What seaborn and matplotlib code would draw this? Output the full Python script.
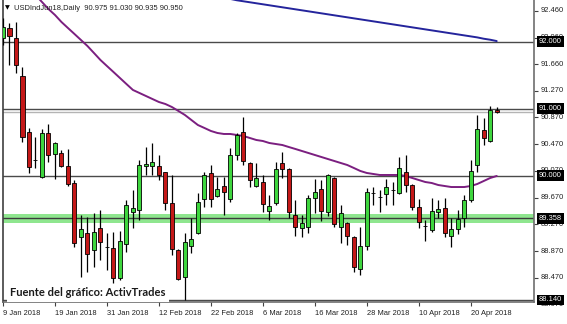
import matplotlib
matplotlib.use("Agg")
import matplotlib.pyplot as plt
import matplotlib.transforms as mtransforms
import numpy as np
import pandas as pd
import seaborn as sns

# ---------------- data ----------------
title_text = "USDIndJun18,Daily  90.975 91.030 90.935 90.950"
source_text = "Fuente del gráfico: ActivTrades"

opens = [92.056, 92.205, 92.056, 91.488, 90.651, 90.232, 89.978, 90.636, 90.322, 90.337,
         90.142, 89.888, 89.081, 89.141, 88.886, 89.215, 88.931, 88.916, 88.468, 88.976,
         89.455, 89.484, 90.142, 90.142, 90.142, 90.053, 89.589, 88.886, 88.483, 88.946,
         89.141, 89.649, 90.038, 89.694, 89.843, 89.649, 90.307, 90.651, 90.187, 89.843,
         89.903, 89.469, 89.589, 90.187, 90.098, 89.410, 89.215, 89.230, 89.664, 89.799,
         89.455, 89.963, 89.230, 89.290, 89.081, 88.603, 88.946, 89.739, 89.679, 89.724,
         89.784, 89.739, 90.053, 89.858, 89.529, 89.245, 89.185, 89.455, 89.514, 89.096,
         89.200, 89.365, 89.634, 90.157, 90.681, 90.516, 90.975]
highs = [92.355, 92.280, 92.295, 91.622, 90.711, 90.576, 90.696, 90.770, 90.501, 90.382,
         90.397, 89.933, 89.410, 89.380, 89.440, 89.484, 89.141, 89.156, 89.171, 89.634,
         89.784, 90.232, 90.426, 90.486, 90.307, 90.060, 90.008, 88.900, 89.141, 89.365,
         89.739, 90.053, 90.157, 89.978, 89.978, 90.411, 90.636, 90.875, 90.202, 90.187,
         90.008, 89.709, 90.202, 90.352, 90.110, 89.634, 89.410, 89.709, 89.948, 89.933,
         90.023, 89.975, 89.559, 89.300, 89.096, 89.230, 89.814, 89.828, 89.784, 89.948,
         89.903, 90.277, 90.307, 89.870, 89.649, 89.335, 89.664, 89.634, 89.664, 89.365,
         89.484, 89.709, 90.232, 90.905, 90.860, 91.035, 91.030]
lows = [91.951, 91.652, 91.533, 90.501, 90.038, 90.113, 89.963, 90.202, 89.948, 90.127,
        89.843, 88.931, 88.483, 88.558, 88.632, 88.737, 88.588, 88.393, 88.438, 88.857,
        89.215, 89.335, 90.008, 90.008, 89.933, 89.484, 88.812, 88.440, 88.140, 88.842,
        89.130, 89.529, 89.529, 89.680, 89.410, 89.604, 90.232, 90.157, 89.828, 89.828,
        89.455, 89.335, 89.559, 89.963, 89.365, 89.096, 89.081, 89.141, 89.440, 89.320,
        89.395, 89.230, 88.991, 88.961, 88.558, 88.513, 88.886, 89.559, 89.455, 89.559,
        89.559, 89.730, 89.754, 89.484, 89.215, 89.021, 89.156, 89.365, 89.081, 88.931,
        89.126, 89.230, 89.604, 90.053, 90.456, 90.501, 90.935]
closes = [92.220, 92.086, 91.652, 90.576, 90.127, 90.232, 90.636, 90.307, 90.486, 90.142,
          89.873, 88.991, 89.200, 88.827, 89.156, 89.006, 88.931, 88.468, 89.021, 89.559,
          89.514, 90.157, 90.172, 90.202, 90.008, 89.589, 88.901, 88.453, 89.006, 89.051,
          89.604, 90.008, 89.649, 89.799, 89.754, 90.307, 90.606, 90.217, 89.933, 89.963,
          89.574, 89.544, 90.098, 90.098, 89.455, 89.230, 89.290, 89.664, 89.754, 89.469,
          90.008, 89.275, 89.440, 89.096, 88.632, 88.946, 89.754, 89.739, 89.679, 89.828,
          89.784, 90.113, 89.858, 89.529, 89.305, 89.245, 89.469, 89.499, 89.141, 89.200,
          89.350, 89.634, 90.068, 90.696, 90.561, 90.975, 90.950]

ma_slow_start = 5
ma_slow = [92.700, 92.594, 92.489, 92.400, 92.295, 92.205, 92.116, 92.026, 91.936, 91.832, 91.727,
           91.637, 91.548, 91.458, 91.368, 91.279, 91.234, 91.189, 91.144, 91.099, 91.069,
           91.024, 90.965, 90.905, 90.830, 90.755, 90.711, 90.666, 90.636, 90.621, 90.621,
           90.606, 90.591, 90.561, 90.531, 90.516, 90.486, 90.471, 90.456, 90.426, 90.397,
           90.367, 90.337, 90.307, 90.277, 90.247, 90.217, 90.187, 90.157, 90.113, 90.068,
           90.038, 90.023, 90.008, 90.008, 90.008, 90.008, 89.993, 89.963, 89.933, 89.903,
           89.888, 89.858, 89.843, 89.828, 89.828, 89.828, 89.843, 89.873, 89.918, 89.963,
           89.993]
ma_long_start = 35
ma_long = [92.640, 92.620, 92.605, 92.590, 92.575, 92.560, 92.545, 92.530, 92.515, 92.500,
           92.485, 92.470, 92.455, 92.440, 92.425, 92.410, 92.395, 92.380, 92.365, 92.350,
           92.335, 92.320, 92.305, 92.290, 92.275, 92.260, 92.245, 92.230, 92.215, 92.200,
           92.185, 92.170, 92.155, 92.140, 92.125, 92.110, 92.095, 92.080, 92.065, 92.045,
           92.030, 92.010]

date_tick_bars = [0, 8, 16, 24, 32, 40, 48, 56, 64, 72]
date_labels = ["9 Jan 2018", "19 Jan 2018", "31 Jan 2018", "12 Feb 2018", "22 Feb 2018",
               "6 Mar 2018", "16 Mar 2018", "28 Mar 2018", "10 Apr 2018", "20 Apr 2018"]
price_ticks = [92.460, 92.060, 91.660, 91.270, 90.870, 90.470, 90.070, 89.670,
               89.270, 88.870, 88.470, 88.070]
level_lines = [92.000, 91.000, 90.000, 88.140]
support_level = 89.358
support_band = (89.285, 89.430)
bid_price = 90.950
y_range = (88.109, 92.624)
x_range = (0.05, 81.74)

# ---------------- figure ----------------
sns.set_theme(style="white")
plt.rcParams['font.family'] = ['Liberation Sans', 'DejaVu Sans']

W, H = 567, 324
fig = plt.figure(figsize=(W / 100, H / 100), dpi=100)
fig.patch.set_facecolor("white")
ax_l, ax_b, ax_w, ax_h = 3, 22, 531, 302   # pixels
ax = fig.add_axes([ax_l / W, ax_b / H, ax_w / W, ax_h / H])
ax.set_facecolor("white")

df = pd.DataFrame({"bar": np.arange(len(opens)), "open": opens, "high": highs,
                   "low": lows, "close": closes})

# support band and level lines
ax.axhspan(support_band[0], support_band[1], color="#8fe68f", lw=0, zorder=1)
ax.axhline(support_level, color="#3c3c3c", lw=1.0, zorder=1.5)
for lv in level_lines:
    ax.axhline(lv, color="#4a4a4a", lw=1.0, zorder=1.5)
ax.axhline(bid_price, color="#b4b4b4", lw=1.0, zorder=1.4)

# moving averages
ma1 = pd.DataFrame({"bar": np.arange(ma_slow_start, ma_slow_start + len(ma_slow)), "v": ma_slow})
ma2 = pd.DataFrame({"bar": np.arange(ma_long_start, ma_long_start + len(ma_long)), "v": ma_long})
sns.lineplot(data=ma1, x="bar", y="v", ax=ax, color="#7b1f80", lw=1.4, zorder=2)
sns.lineplot(data=ma2, x="bar", y="v", ax=ax, color="#24249c", lw=1.4, zorder=2)

# candles
ax.vlines(df["bar"], df["low"], df["high"], color="black", lw=0.9, zorder=3)
colors = np.where(df["close"] > df["open"], "#3ed63e",
                  np.where(df["close"] < df["open"], "#c41818", "black"))
bottoms = np.minimum(df["open"], df["close"])
heights = np.abs(df["close"] - df["open"])
ax.bar(df["bar"], heights, bottom=bottoms, width=0.62, color=colors,
       edgecolor="black", linewidth=0.6, zorder=4)

ax.set_xlim(*x_range)
ax.set_ylim(*y_range)
ax.set_xlabel("")
ax.set_ylabel("")

# spines
for s in ["left", "bottom", "right"]:
    ax.spines[s].set_visible(True)
    ax.spines[s].set_color("#6e6e6e")
    ax.spines[s].set_linewidth(1.2)
ax.spines["top"].set_visible(False)
ax.spines["left"].set_color("#404040")

# x ticks
ax.set_xticks(date_tick_bars)
ax.set_xticklabels(date_labels, ha="left", fontsize=5.4, color="#202020")
ax.tick_params(axis="x", direction="out", length=3, width=0.8, color="#404040", pad=3,
               bottom=True)
# y ticks on the right, labels drawn manually
ax.set_yticks([t for t in price_ticks if y_range[0] <= t <= y_range[1]])
ax.tick_params(axis="y", left=False, right=True, labelleft=False, labelright=False,
               direction="out", length=3, width=0.8, color="#404040")

trans = mtransforms.blended_transform_factory(ax.transAxes, ax.transData)
for t in price_ticks:
    ax.text(1 + 7 / ax_w, t, f"{t:.3f}", transform=trans, fontsize=5.4, va="center",
            ha="left", color="#202020", clip_on=False, zorder=5)

boxed = [92.000, 91.000, 90.000, support_level, 88.140]
for b in boxed:
    ax.text(1 + 5 / ax_w, b, f"{b:.3f}", transform=trans, fontsize=5.4, va="center",
            ha="left", color="white", clip_on=False, zorder=6,
            bbox=dict(boxstyle="square,pad=0.25", fc="black", ec="none"))

# title
fig.text(5 / W, 1 - 8 / H, "▼", fontsize=4.5, va="center", ha="left", color="black",
         family=["DejaVu Sans"])
fig.text(14 / W, 1 - 8 / H, title_text, fontsize=5.4, va="center", ha="left", color="#202020")

# source label
fig.text(10 / W, 1 - 293 / H, source_text, fontsize=8, fontweight="bold", va="center",
         ha="left", color="#1a1a1a", family=["Lato", "DejaVu Sans"],
         bbox=dict(boxstyle="square,pad=0.3", fc="white", ec="none"), zorder=10)

fig.savefig("out.png", dpi=100, facecolor="white")
